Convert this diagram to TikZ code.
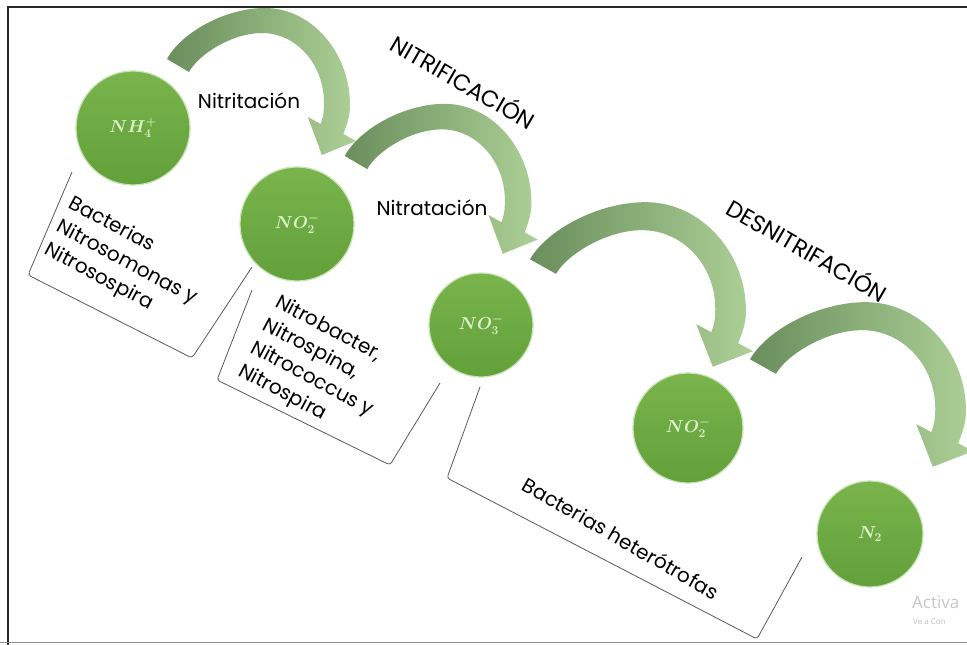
\documentclass[tikz,border=0pt]{standalone}
\usepackage{fontspec}
\setmainfont{Poppins}
\newfontfamily\wmfont{Open Sans}
\definecolor{arrdark}{RGB}{106,142,92}
\definecolor{arrmid}{RGB}{132,170,112}
\definecolor{arrlight}{RGB}{172,208,150}
\definecolor{circtop}{RGB}{122,180,76}
\definecolor{circbot}{RGB}{98,160,58}
\definecolor{circedge}{RGB}{200,228,180}
\definecolor{circtext}{RGB}{222,242,205}
\newcommand{\bandarrow}[1]{%
\begin{scope}[#1]
\shade[left color=arrdark, middle color=arrmid, right color=arrlight]
 (-11,-6) .. controls (3.4,-32.4) and (47,-57) .. (87,-57)
 .. controls (134,-57) and (172,-12) .. (172,40)
 .. controls (172,52) and (168.7,59.7) .. (165.4,69)
 -- (178.1,76) -- (143.9,90) -- (129.9,52) -- (142.6,59)
 .. controls (144.8,53.4) and (146,48) .. (146,38)
 .. controls (146,-1) and (118,-32) .. (84,-32)
 .. controls (54,-32) and (20.6,-10.6) .. (11,7) -- cycle;
\end{scope}}
\begin{document}
\begin{tikzpicture}[x=1pt,y=-1pt,
  chem/.style={circle, minimum size=#1, inner sep=0pt, top color=circtop, bottom color=circbot,
    draw=circedge, line width=1.2pt, text=circtext, font=\fontsize{18}{18}\selectfont\boldmath},
  brk/.style={draw=black!65, line width=0.8pt, rounded corners=3pt},
  lbl/.style={font=\fontsize{20}{24}\selectfont, inner sep=0pt, text=black},
  caps/.style={font=\fontsize{23}{26}\selectfont, inner sep=0pt, text=black},
  blk/.style={font=\fontsize{20}{26}\selectfont, inner sep=0pt, align=left, text=black}]
\useasboundingbox (0,0) rectangle (967,645);
\fill[white] (0,0) rectangle (967,645);
% frame
\draw[line width=1.5pt, black!85] (8,645) -- (8,7) -- (967,7);
\draw[line width=1.5pt, black!45] (0,642.5) -- (967,642.5);
% curved arrows
\bandarrow{shift={(178,65)}}
\bandarrow{shift={(356,162)}, scale=1.02}
\bandarrow{shift={(543,266)}, xscale=1.18, yscale=1.12}
\bandarrow{shift={(763,366)}, xscale=1.18, yscale=1.12}
% circles
\node[chem=114] (nh4) at (133,128) {$NH_4^+$};
\node[chem=114] (no2a) at (297,224) {$NO_2^-$};
\node[chem=104] (no3) at (481,325) {$NO_3^-$};
\node[chem=110] (no2b) at (688,428) {$NO_2^-$};
\node[chem=106] (n2) at (870,534) {$N_2$};
% brackets
\draw[brk] (72,172) -- (28,275) -- (192,358) -- (252,267);
\draw[brk] (252,290) -- (217,380) -- (390,465) -- (440,383);
\draw[brk] (480,387) -- (447,478) -- (757,639) -- (802,557);
% labels
\node[lbl] (nitrit) at (249,101) {Nitritación};
\node[lbl] (nitrat) at (432,208) {Nitratación};
\node[caps, rotate=-30] (nitrif) at (464,81) {NITRIFICACIÓN};
\node[caps, rotate=-30] (desn) at (808,249) {DESNITRIFACIÓN};
\node[blk, rotate=-28] (b1) at (127,263) {Bacterias\\Nitrosomonas y\\Nitrosospira};
\node[blk, rotate=-28] (b2) at (318,368) {Nitrobacter,\\Nitrospina,\\Nitrococcus y\\Nitrospira};
\node[lbl, rotate=-30] (b3) at (621,538) {Bacterias heterótrofas};
% watermark
\node[anchor=base west, inner sep=0pt, text=black!22, font=\wmfont\fontsize{17}{17}\selectfont] (wm1) at (912,608) {Activa};
\node[anchor=base west, inner sep=0pt, text=black!25, font=\wmfont\fontsize{8}{8}\selectfont] (wm2) at (913,624) {Ve a Con};
\end{tikzpicture}
\end{document}
